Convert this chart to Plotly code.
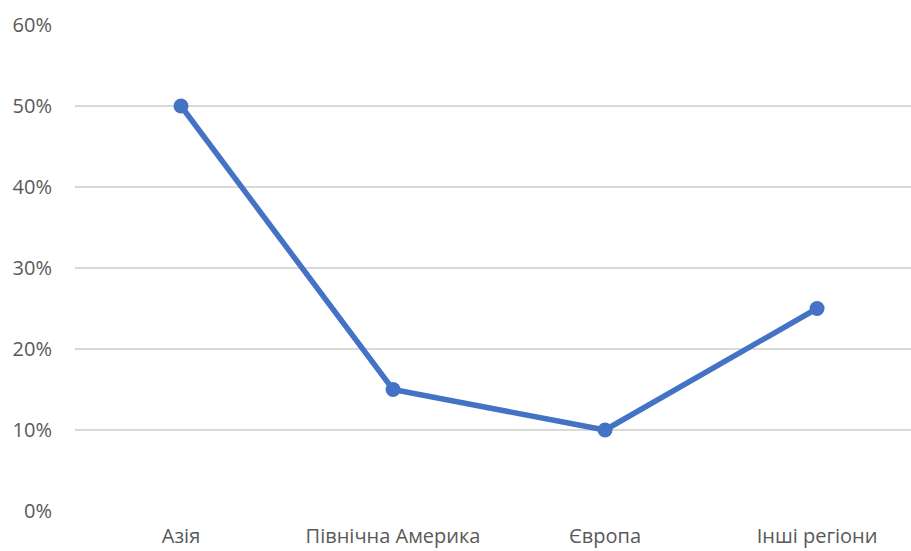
import plotly.graph_objects as go

categories = ["Азія", "Північна Америка", "Європа", "Інші регіони"]
values = [0.50, 0.15, 0.10, 0.25]
y_ticks = [0, 0.1, 0.2, 0.3, 0.4, 0.5, 0.6]
y_tick_labels = ["0%", "10%", "20%", "30%", "40%", "50%", "60%"]

fig = go.Figure(go.Scatter(
    x=categories, y=values, mode="lines+markers",
    line=dict(color="#4472C4", width=5.5),
    marker=dict(color="#4472C4", size=15),
    cliponaxis=False,
))

fig.update_layout(
    width=911, height=551,
    margin=dict(l=75, r=0, t=25, b=40),
    paper_bgcolor="white", plot_bgcolor="white",
    showlegend=False,
    font=dict(family="Open Sans, Liberation Sans, sans-serif", size=20, color="#595959"),
)
fig.update_xaxes(
    type="category", range=[-0.5, 3.443],
    showgrid=False, showline=False, zeroline=False,
    ticks="", ticklabelstandoff=11, automargin=False,
)
fig.update_yaxes(
    range=[0, 0.6], tickvals=y_ticks, ticktext=y_tick_labels,
    showgrid=True, gridcolor="#d9d9d9", gridwidth=1.5,
    zeroline=False, showline=False, ticks="", ticklabelstandoff=22,
    automargin=False,
)

fig.write_html("out.html")
